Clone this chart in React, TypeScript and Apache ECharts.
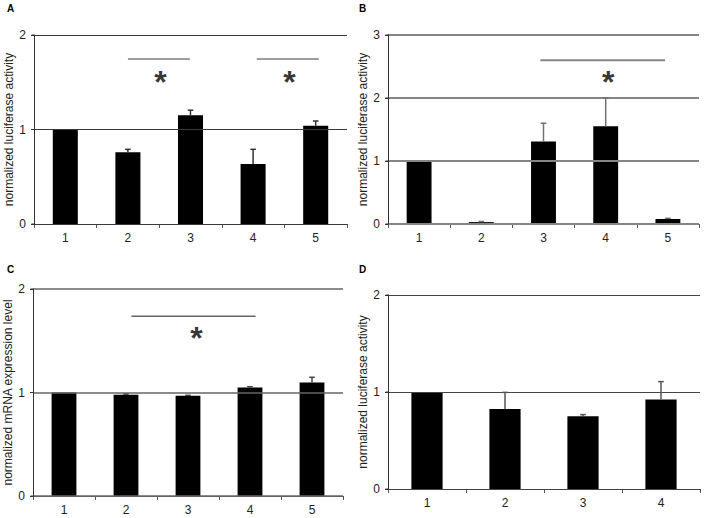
import React, { useEffect, useRef } from "react";
import * as echarts from "echarts";

const categoriesA = ["1", "2", "3", "4", "5"];
const valuesA = [1.0, 0.76, 1.15, 0.635, 1.04];
const errorsA = [0, 0.03, 0.054, 0.155, 0.05];
const sigLinesA = [[1.0, 1.99, 1.746], [3.06, 4.05, 1.746]];
const starsA = [[1.52, 1.58], [3.58, 1.58]];

const categoriesB = ["1", "2", "3", "4", "5"];
const valuesB = [1.0, 0.03, 1.31, 1.55, 0.08];
const errorsB = [0, 0.01, 0.29, 0.45, 0.01];
const sigLinesB = [[1.95, 3.955, 2.6]];
const starsB = [[3.04, 2.37]];

const categoriesC = ["1", "2", "3", "4", "5"];
const valuesC = [1.0, 0.978, 0.968, 1.048, 1.097];
const errorsC = [0, 0.006, 0.005, 0.008, 0.05];
const sigLinesC = [[1.087, 3.09, 1.736]];
const starsC = [[2.135, 1.59]];

const categoriesD = ["1", "2", "3", "4"];
const valuesD = [1.0, 0.826, 0.751, 0.922];
const errorsD = [0, 0.17, 0.016, 0.185];

const yMaxes = [2, 3, 2, 2];
const yNames = [
  "normalized luciferase activity",
  "normalized luciferase activity",
  "normalized mRNA expression level",
  "normalized luciferase activity",
];
const panelLabels = ["A", "B", "C", "D"];

const FONT = "Liberation Sans, Arial, sans-serif";

export default function App() {
  const ref = useRef<HTMLDivElement>(null);
  useEffect(() => {
    if (!ref.current) return;
    const chart = echarts.init(ref.current, null, { renderer: "svg" });

    const panels = [
      { cats: categoriesA, vals: valuesA, errs: errorsA, lines: sigLinesA, stars: starsA },
      { cats: categoriesB, vals: valuesB, errs: errorsB, lines: sigLinesB, stars: starsB },
      { cats: categoriesC, vals: valuesC, errs: errorsC, lines: sigLinesC, stars: starsC },
      { cats: categoriesD, vals: valuesD, errs: errorsD, lines: [] as number[][], stars: [] as number[][] },
    ];
    const gridBoxes = [
      { left: 34, top: 35, width: 313, height: 189 },
      { left: 388, top: 35, width: 311, height: 189 },
      { left: 33, top: 289, width: 310, height: 207 },
      { left: 388, top: 295, width: 312, height: 194 },
    ];
    const lineColors = ["#3a3a3a", "#858585", "#666666", "#444444"];
    const lineWidths = [1, 2, 1.5, 1];
    const errColors = ["#333333", "#707070", "#444444", "#555555"];
    const titlePos = [
      { left: 7, top: 3 },
      { left: 359, top: 3 },
      { left: 7, top: 264 },
      { left: 359, top: 264 },
    ];

    const xAxes: any[] = [];
    const yAxes: any[] = [];
    const series: any[] = [];

    panels.forEach((p, g) => {
      xAxes.push({
        type: "category",
        gridIndex: g,
        data: p.cats,
        axisLine: { lineStyle: { color: "#555", width: 1 } },
        axisTick: { show: true, length: 4, lineStyle: { color: "#555" } },
        axisLabel: { color: "#222", fontSize: 12, fontFamily: FONT, margin: 8 },
        splitLine: { show: false },
      });
      yAxes.push({
        type: "value",
        gridIndex: g,
        min: 0,
        max: yMaxes[g],
        interval: 1,
        name: yNames[g],
        nameLocation: "middle",
        nameGap: 17,
        nameTextStyle: { color: "#222", fontSize: 12, fontFamily: FONT },
        axisLine: { show: true, lineStyle: { color: "#333", width: 1 } },
        axisTick: { show: true, length: 3, lineStyle: { color: "#333" } },
        axisLabel: { color: "#222", fontSize: 12, fontFamily: FONT, margin: 8 },
        splitLine: { show: true, lineStyle: { color: lineColors[g], width: lineWidths[g] } },
        z: 3,
      });
    });
    panels.forEach((p, g) => {
      xAxes.push({
        type: "value",
        gridIndex: 4 + g,
        min: -0.5,
        max: p.cats.length - 0.5,
        show: false,
      });
      yAxes.push({
        type: "value",
        gridIndex: 4 + g,
        min: 0,
        max: yMaxes[g],
        interval: 1,
        show: false,
      });
    });

    panels.forEach((p, g) => {
      series.push({
        type: "bar",
        xAxisIndex: g,
        yAxisIndex: g,
        data: p.vals,
        barWidth: "40%",
        itemStyle: { color: "#000" },
        silent: true,
      });
      const errData = p.vals
        .map((v, i) => [i, v, v + p.errs[i]])
        .filter((d) => d[2] > d[1]);
      series.push({
        type: "custom",
        xAxisIndex: 4 + g,
        yAxisIndex: 4 + g,
        data: errData,
        z: 5,
        silent: true,
        encode: { x: 0, y: [1, 2] },
        renderItem: (params: any, api: any) => {
          const i = api.value(0);
          const v = api.value(1);
          const e = api.value(2);
          const p0 = api.coord([i, v]);
          const p1 = api.coord([i, e]);
          const st = { stroke: errColors[g], lineWidth: 1.5, fill: "none" };
          return {
            type: "group",
            children: [
              { type: "line", shape: { x1: p0[0], y1: p0[1], x2: p1[0], y2: p1[1] }, style: st },
              { type: "line", shape: { x1: p1[0] - 2.8, y1: p1[1], x2: p1[0] + 2.8, y2: p1[1] }, style: st },
            ],
          };
        },
      });
      // left axis line drawn through the overlay scales (coincides with the grid's y axis)
      series.push({
        type: "custom",
        xAxisIndex: 4 + g,
        yAxisIndex: 4 + g,
        data: [[-0.5, 0, yMaxes[g]]],
        z: 6,
        silent: true,
        encode: { x: 0, y: [1, 2] },
        renderItem: (params: any, api: any) => {
          const a = api.coord([api.value(0), api.value(1)]);
          const b = api.coord([api.value(0), api.value(2)]);
          const x = Math.round(a[0]) + 0.5;
          const st = { stroke: "#333", lineWidth: 1 };
          const children: any[] = [
            { type: "line", shape: { x1: x, y1: a[1], x2: x, y2: b[1] }, style: st },
          ];
          for (let t = 0; t <= yMaxes[g]; t++) {
            const c = api.coord([api.value(0), t]);
            children.push({ type: "line", shape: { x1: x - 3, y1: c[1], x2: x, y2: c[1] }, style: st });
          }
          return { type: "group", children };
        },
      });
      p.lines.forEach((ln) => {
        series.push({
          type: "line",
          xAxisIndex: 4 + g,
          yAxisIndex: 4 + g,
          data: [
            [ln[0], ln[2]],
            [ln[1], ln[2]],
          ],
          symbol: "none",
          lineStyle: { color: lineColors[g], width: lineWidths[g] },
          silent: true,
        });
      });
      if (p.stars.length) {
        series.push({
          type: "scatter",
          xAxisIndex: 4 + g,
          yAxisIndex: 4 + g,
          data: p.stars,
          symbolSize: 0,
          silent: true,
          label: {
            show: true,
            position: "inside",
            formatter: "*",
            color: "#000",
            fontSize: 32,
            fontWeight: "bold",
            fontFamily: FONT,
            offset: [0, 7],
          },
        });
      }
    });

    chart.setOption({
      animation: false,
      backgroundColor: "#fff",
      title: panelLabels.map((t, g) => ({
        text: t,
        left: titlePos[g].left,
        top: titlePos[g].top,
        padding: 0,
        textStyle: { fontSize: 10, fontWeight: "bold", color: "#000", fontFamily: FONT },
      })),
      grid: [...gridBoxes, ...gridBoxes].map((b) => ({ ...b, containLabel: false })),
      xAxis: xAxes,
      yAxis: yAxes,
      series,
    });
    return () => chart.dispose();
  }, []);
  return (
    <div
      ref={ref}
      style={{ position: "absolute", left: 0, top: 0, width: 704, height: 518 }}
    />
  );
}
